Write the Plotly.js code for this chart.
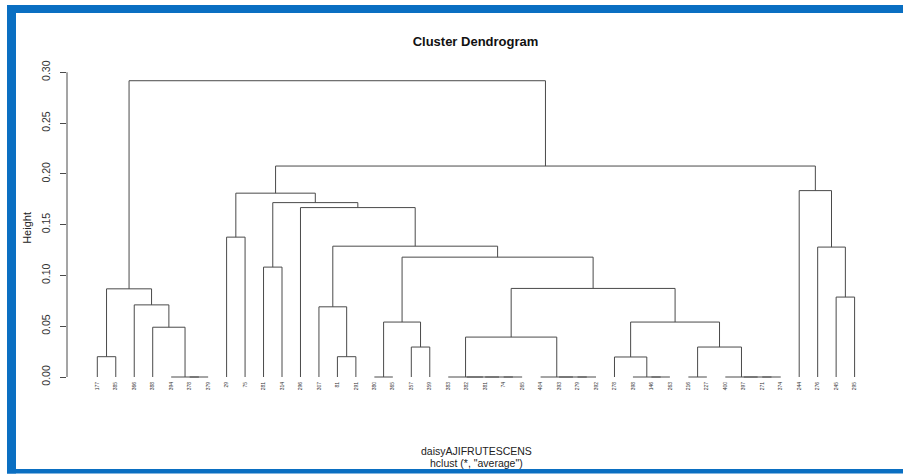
<!DOCTYPE html>
<html>
<head>
<meta charset="utf-8">
<script src="https://cdn.plot.ly/plotly-3.0.1.min.js"></script>
<style>
  html, body { margin: 0; padding: 0; background: #ffffff; }
  #chart { width: 903px; height: 474px; }
</style>
</head>
<body>
<div id="chart"></div>
<script>
// ---- data (leaf order as drawn, merges reference leaf positions (negative) or earlier merges (positive)) ----
const leafLabels = ['177','385','366','388','394','378','379','29','75','281','314','296','307','81','291','380','365','357','359','383','382','381','74','265','404','393','279','392','278','398','146','263','216','227','400','397','271','374','244','276','245','295'];
const mergeA = [-6,-5,-16,-23,-22,-21,-20,-27,-26,-25,-31,-30,-33,-37,-36,-35,-29,-1,-14,-18,13,7,-4,3,17,-13,-3,-41,18,22,-10,24,-40,26,-8,-12,31,35,-39,38,29];
const mergeB = [-7,1,-17,-24,4,5,6,-28,8,9,-32,11,-34,-38,14,15,12,-2,-15,-19,16,10,2,20,21,19,23,-42,27,25,-11,30,28,32,-9,34,36,37,33,39,40];
const mergeHeights = [0,0,0,0,0,0,0,0,0,0,0,0,0,0,0,0,0.0197,0.0200,0.0200,0.0295,0.0295,0.0393,0.0490,0.0541,0.0541,0.0691,0.0710,0.0787,0.0868,0.0872,0.1082,0.1180,0.1279,0.1288,0.1377,0.1668,0.1717,0.1810,0.1835,0.2077,0.2917];
const yTickVals = [0, 0.05, 0.10, 0.15, 0.20, 0.25, 0.30];
const yTickText = ['0.00','0.05','0.10','0.15','0.20','0.25','0.30'];
const titleText = 'Cluster Dendrogram';
const yTitle = 'Height';
const subLine1 = 'daisyAJIFRUTESCENS';
const subLine2 = 'hclust (*, "average")';

// ---- build dendrogram segments ----
const nodeX = [], nodeH = [];
function childPos(c) {
  if (c < 0) return [-c, 0];
  return [nodeX[c - 1], nodeH[c - 1]];
}
const segX = [], segY = [];
for (let i = 0; i < mergeA.length; i++) {
  const [xa, ha] = childPos(mergeA[i]);
  const [xb, hb] = childPos(mergeB[i]);
  const h = mergeHeights[i];
  segX.push(xa, xa, xb, xb, null);
  segY.push(ha, h, h, hb, null);
  nodeX.push((xa + xb) / 2);
  nodeH.push(h);
}

// ---- layout geometry (pixels) ----
const W = 903, H = 474;
const plotL = 67, plotR = 870, plotT = 62, plotB = 380.3;
const pw = plotR - plotL, ph = plotB - plotT;
const px2x = p => (p - plotL) / pw;
const py2y = p => (plotB - p) / ph;
const lineCol = '#4a4a4a';
const blue = '#0a6fc2';
const font = 'Liberation Sans, Arial, sans-serif';

const trace = {
  x: segX, y: segY, type: 'scatter', mode: 'lines',
  line: { color: lineCol, width: 1 },
  hoverinfo: 'skip', showlegend: false
};

const shapes = [
  // y axis line from 0 to 0.30
  { type: 'line', xref: 'paper', yref: 'y', x0: 0, x1: 0, y0: 0, y1: 0.30, line: { color: lineCol, width: 1 } },
  // blue frame (left, top, bottom)
  { type: 'rect', xref: 'paper', yref: 'paper', x0: px2x(7), x1: px2x(16), y0: py2y(474), y1: py2y(5), fillcolor: blue, line: { width: 0 }, layer: 'above' },
  { type: 'rect', xref: 'paper', yref: 'paper', x0: px2x(7), x1: px2x(903), y0: py2y(13), y1: py2y(5), fillcolor: blue, line: { width: 0 }, layer: 'above' },
  { type: 'rect', xref: 'paper', yref: 'paper', x0: px2x(7), x1: px2x(903), y0: py2y(474), y1: py2y(469.5), fillcolor: blue, line: { width: 0 }, layer: 'above' }
];

const annotations = [
  { text: yTitle, xref: 'paper', yref: 'paper', x: px2x(27), y: py2y(228), textangle: -90,
    showarrow: false, xanchor: 'center', yanchor: 'middle', font: { family: font, size: 11, color: '#222' } },
  { text: subLine1, xref: 'paper', yref: 'paper', x: px2x(476), y: py2y(451), showarrow: false,
    xanchor: 'center', yanchor: 'middle', font: { family: font, size: 10.5, color: '#222' } },
  { text: subLine2, xref: 'paper', yref: 'paper', x: px2x(476), y: py2y(463), showarrow: false,
    xanchor: 'center', yanchor: 'middle', font: { family: font, size: 10.5, color: '#222' } }
];

const layout = {
  width: W, height: H,
  margin: { l: plotL, r: W - plotR, t: plotT, b: H - plotB, pad: 0 },
  paper_bgcolor: '#ffffff', plot_bgcolor: '#ffffff',
  title: { text: titleText, xref: 'container', yref: 'container', x: 475.5 / W, y: 1 - 41.7 / H,
           xanchor: 'center', yanchor: 'middle', font: { family: font, size: 13, color: '#111', weight: 'bold' } },
  xaxis: {
    range: [1 - (97.3 - plotL) / 18.47, 42 + (plotR - 854.6) / 18.47],
    tickmode: 'array', tickvals: leafLabels.map((_, i) => i + 1), ticktext: leafLabels,
    tickangle: -90, tickfont: { family: font, size: 5, color: '#333' },
    ticks: '', showline: false, showgrid: false, zeroline: false, fixedrange: true
  },
  yaxis: {
    range: [-(plotB - 377.3) / 1016.7, 0.30 + (72.3 - plotT) / 1016.7],
    tickmode: 'array', tickvals: yTickVals, ticktext: yTickText,
    tickangle: -90, tickfont: { family: font, size: 10.5, color: '#333' },
    ticks: 'outside', ticklen: 6, tickcolor: lineCol, tickwidth: 1,
    ticklabelstandoff: 6,
    showline: false, showgrid: false, zeroline: false, fixedrange: true
  },
  shapes: shapes,
  annotations: annotations
};

Plotly.newPlot('chart', [trace], layout, { displayModeBar: false, staticPlot: true });
</script>
</body>
</html>
